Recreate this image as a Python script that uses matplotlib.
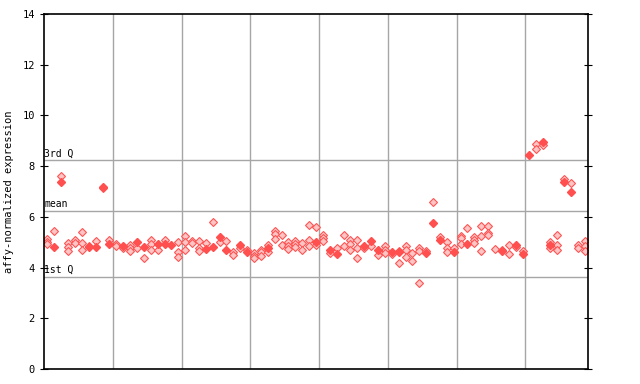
import matplotlib
matplotlib.use("Agg")
import matplotlib.pyplot as plt

# values, one entry per sample column
filled = [None, 4.82, 7.39, None, None, None, 4.82, 4.82, 7.16, 4.92,
          None, 4.86, None, 4.99, 4.82, None, 4.92, 4.93, 4.88, None,
          None, None, None, 4.75, 4.82, 5.22, 4.71, None, 4.88, 4.62,
          None, None, 4.76, None, None, None, None, None, None, 4.99,
          None, 4.69, 4.55, None, None, None, 4.86, 5.06, 4.68, None,
          4.62, 4.62, None, None, None, 4.58, 5.77, 5.07, None, 4.60,
          None, 4.94, None, None, None, None, 4.67, None, 4.90, 4.55,
          8.44, None, 8.96, 4.88, None, 7.39, 6.98, None, None]

others = [[5.13, 5.02, 4.93], [5.43], [7.61], [4.98, 4.82, 4.67], [5.10, 4.96],
          [5.39, 4.96, 4.68], [4.85], [5.05], [7.12], [5.10],
          [4.93, 4.85], [4.76], [4.90, 4.76, 4.67], [4.79], [4.36],
          [5.07, 4.93, 4.70], [4.70], [5.07], [], [4.99, 4.62, 4.41],
          [5.24, 5.02, 4.68], [5.05, 4.96], [5.05, 4.79, 4.67], [4.96], [5.78],
          [4.99], [5.05], [4.60, 4.49], [4.79], [4.70],
          [4.56, 4.47, 4.38], [4.71, 4.60, 4.47], [4.88, 4.62], [5.45, 5.31, 5.13], [5.29, 4.88],
          [4.99, 4.84, 4.73], [5.05, 4.93, 4.80], [4.96, 4.70], [5.68, 5.08, 4.87], [5.59, 4.90],
          [5.29, 5.15, 5.04], [4.59], [4.76], [5.29, 4.87], [5.07, 4.93, 4.70],
          [5.10, 4.76, 4.36], [4.76], [4.87], [4.49], [4.84, 4.69, 4.56],
          [4.52], [4.67, 4.19], [4.84, 4.71, 4.41], [4.56, 4.26], [4.76, 4.67, 3.38],
          [4.67], [6.57], [5.22], [4.99, 4.79, 4.60], [4.79],
          [5.24, 5.15, 4.93], [5.55], [5.19, 5.08, 4.97], [5.64, 5.24, 4.64], [5.64, 5.36, 5.27],
          [4.75], [4.70], [4.90, 4.55], [4.82], [4.64],
          [], [8.86, 8.66], [8.82], [4.99, 4.76], [5.30, 4.88, 4.71],
          [7.48], [7.32], [4.88, 4.79], [5.05, 4.84, 4.67]]

quartile_names = ["3rd Q", "mean", "1st Q"]
quartile_vals = [8.23, 6.22, 3.63]
group_width = 68.75 / 544  # fraction of the axis width per group
n_groups = 8

mono = "DejaVu Sans Mono"
fig = plt.figure(figsize=(6.4, 3.84), dpi=100)
ax = fig.add_axes([44 / 640, 15 / 384, 544 / 640, 355 / 384])

n = len(filled)
ax.set_xlim(-0.5, n - 0.5)
ax.set_ylim(0, 14)

# group separators and quartile lines
for k in range(1, n_groups):
    ax.axvline(-0.5 + n * group_width * k, color="#a6a6a6", lw=1, zorder=1)
for name, v in zip(quartile_names, quartile_vals):
    ax.axhline(v, color="#a6a6a6", lw=1, zorder=1)
    ax.text(-0.45, v + 0.08, name, family=mono, fontsize=7, va="bottom", ha="left")

hx = [i for i, vals in enumerate(others) for _ in vals]
hy = [v for vals in others for v in vals]
ax.plot(hx, hy, ls="none", marker="D", ms=3.6, mfc="#ffc4c4", mec="#ff5555",
        mew=0.8, zorder=2)

fx = [i for i, v in enumerate(filled) if v is not None]
fy = [v for v in filled if v is not None]
ax.plot(fx, fy, ls="none", marker="D", ms=4, color="#ff4f4f", zorder=3)

ax.set_xticks([])
ax.set_yticks(range(0, 15, 2))
ax.tick_params(axis="y", which="both", direction="inout", length=6, labelsize=7.5)
ax.tick_params(axis="y", right=True)
for lab in ax.get_yticklabels():
    lab.set_family(mono)
ax.set_ylabel("affy-normalized expression", family=mono, fontsize=7.5, labelpad=6)
for s in ax.spines.values():
    s.set_linewidth(1.2)

fig.savefig("out.png", dpi=100)
